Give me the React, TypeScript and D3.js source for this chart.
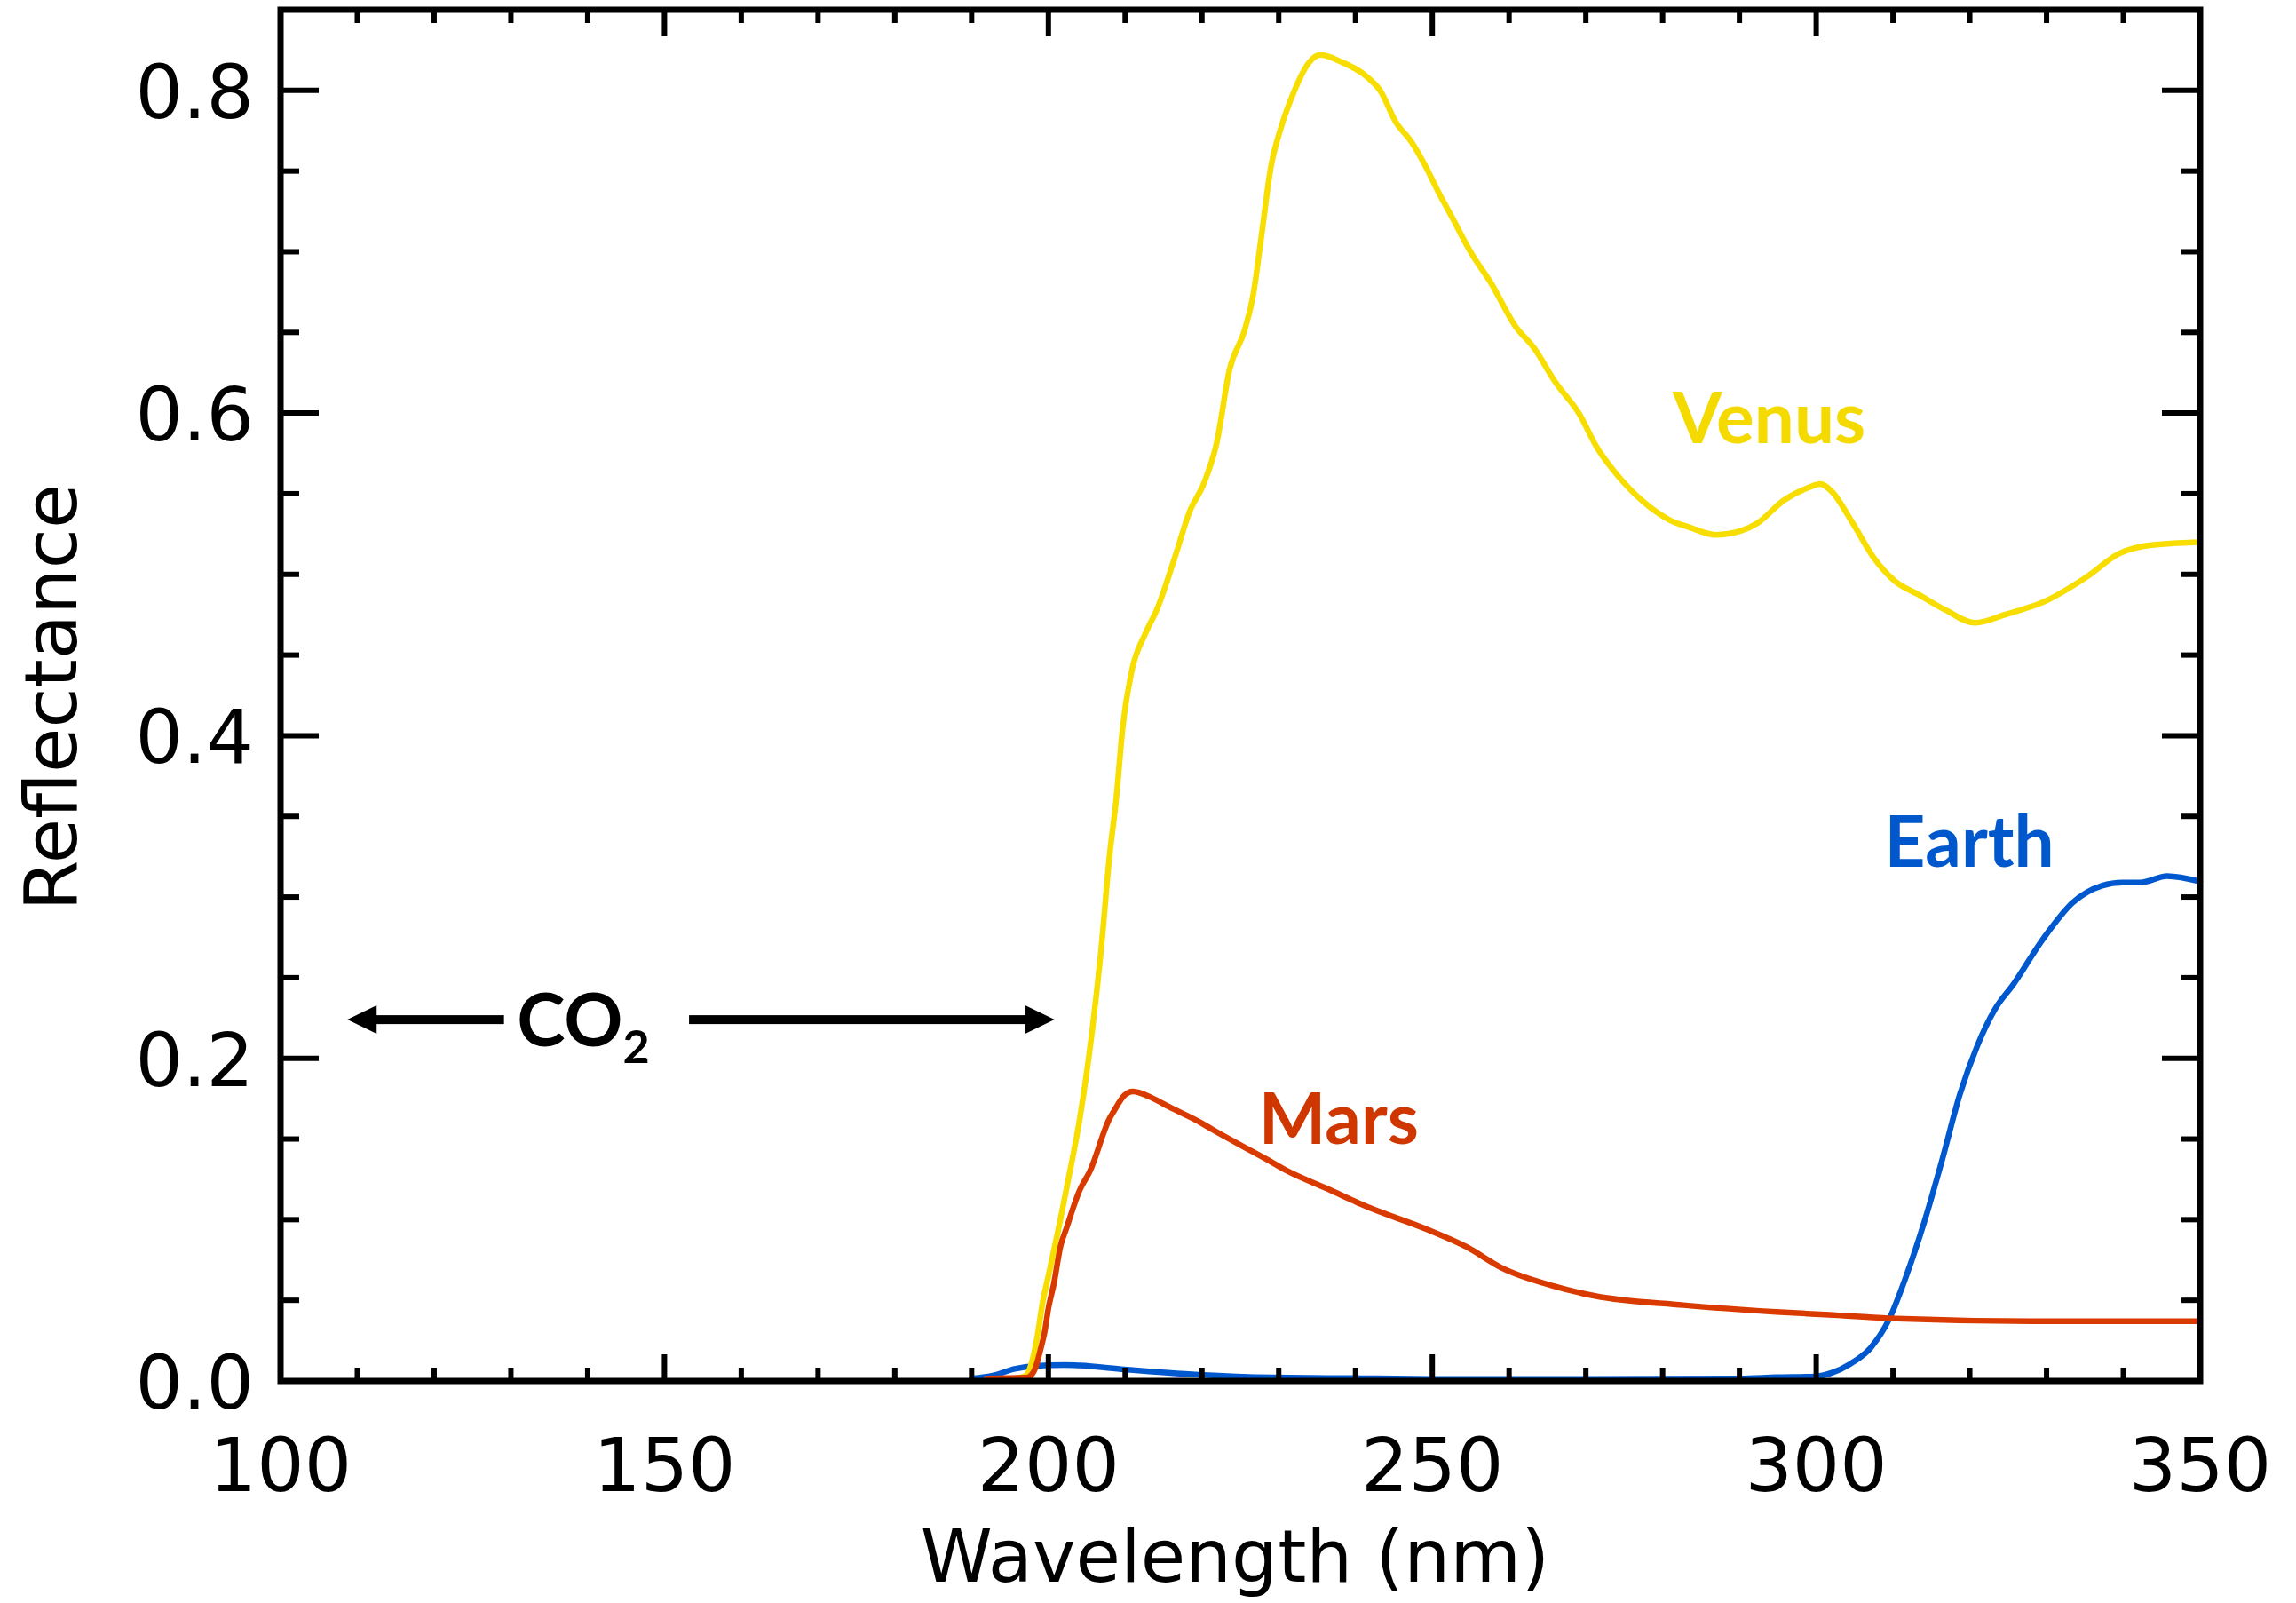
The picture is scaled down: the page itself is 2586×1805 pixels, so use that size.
import React from "react";
import * as d3 from "d3";

// Reflectance spectra (wavelength in nm, reflectance)
const venusWavelength = [192, 195.5, 197.0, 197.8, 198.5, 199.3, 200.0, 200.85, 201.3, 202.6, 204.1, 205.7, 206.8, 208.0, 208.8, 209.7, 210.9, 212.6, 214.2, 216.5, 218.4, 220.3, 221.9, 223.6, 225.6, 226.7, 227.7, 229.0, 230.3, 231.8, 233.9, 235.4, 238.0, 241.6, 243.2, 245.3, 247.3, 248.9, 250.9, 252.5, 255.1, 257.6, 260.8, 263.3, 265.9, 269.2, 271.4, 274.2, 277.5, 280.8, 283.6, 286.9, 290.2, 292.4, 295.8, 299.1, 300.5, 302.1, 304.6, 307.4, 310.2, 313.5, 316.8, 320.7, 324.6, 330.1, 335.1, 339.5, 343.4, 350];
const venusReflectance = [0.0015, 0.0015, 0.003, 0.011, 0.026, 0.05, 0.065, 0.084, 0.094, 0.125, 0.163, 0.217, 0.264, 0.327, 0.359, 0.406, 0.441, 0.463, 0.479, 0.511, 0.539, 0.557, 0.581, 0.627, 0.652, 0.674, 0.708, 0.753, 0.777, 0.797, 0.817, 0.822, 0.818, 0.808, 0.8, 0.78, 0.768, 0.755, 0.736, 0.722, 0.699, 0.681, 0.654, 0.64, 0.62, 0.599, 0.579, 0.561, 0.545, 0.534, 0.529, 0.5245, 0.527, 0.532, 0.546, 0.554, 0.556, 0.551, 0.533, 0.511, 0.496, 0.487, 0.478, 0.47, 0.475, 0.484, 0.498, 0.513, 0.518, 0.52];

const marsWavelength = [192, 197.0, 197.6, 198.3, 199.0, 199.5, 200.0, 200.7, 201.6, 202.3, 204.1, 205.4, 208.0, 208.5, 209.9, 211.0, 213.7, 215.7, 219.9, 221.5, 228.6, 231.1, 236.4, 241.5, 249.3, 254.5, 259.1, 265.7, 271.2, 282.7, 294.8, 301.7, 309.5, 329.5, 350];
const marsReflectance = [0.0015, 0.002, 0.003, 0.008, 0.02, 0.03, 0.045, 0.06, 0.084, 0.094, 0.1185, 0.13, 0.163, 0.167, 0.177, 0.1795, 0.175, 0.17, 0.16, 0.1555, 0.137, 0.1302, 0.119, 0.108, 0.094, 0.083, 0.07, 0.059, 0.0527, 0.047, 0.0428, 0.041, 0.0388, 0.037, 0.037];

const earthWavelength = [190, 192.9, 195.6, 198.3, 202.2, 204.1, 209.9, 219.6, 229.2, 240.8, 250, 270, 290, 294.8, 299.8, 302, 304.4, 307.1, 309.5, 311.8, 314.1, 316.4, 318.7, 321.0, 323.3, 325.7, 329.5, 333.4, 337.2, 339.9, 342.2, 345.7, 350];
const earthReflectance = [0.0015, 0.0035, 0.0075, 0.0094, 0.0099, 0.0096, 0.0072, 0.0039, 0.0022, 0.0017, 0.0013, 0.0012, 0.0015, 0.0023, 0.0028, 0.005, 0.0105, 0.0206, 0.0383, 0.0661, 0.099, 0.137, 0.1775, 0.208, 0.2306, 0.246, 0.2737, 0.2965, 0.307, 0.309, 0.309, 0.313, 0.3096];

const xTickLabels = [100, 150, 200, 250, 300, 350];
const yTickLabels = [0.0, 0.2, 0.4, 0.6, 0.8];

const W = 2586;
const H = 1805;
const LEFT = 316;
const RIGHT = 2478;
const TOP = 11;
const BOTTOM = 1555;

const COLORS = {
  venus: "#F7DE00",
  mars: "#D93A00",
  earth: "#0058CE",
  venusLabel: "#F5DA00",
  marsLabel: "#CF3600",
  earthLabel: "#0058CC",
};

const TICK_FONT = "'DejaVu Sans', sans-serif";
const LABEL_FONT = "Lato, 'Open Sans', sans-serif";

export default function App() {
  const x = d3.scaleLinear().domain([100, 350]).range([LEFT, RIGHT]);
  const y = d3.scaleLinear().domain([0, 0.85]).range([BOTTOM, TOP]);

  const line = (xs: number[], ys: number[]) =>
    d3
      .line<number>()
      .x((_, i) => x(xs[i]))
      .y((_, i) => y(ys[i]))
      .curve(d3.curveMonotoneX)(xs);

  const xMinor = x.ticks(25);
  const yMinor = y.ticks(17);
  const isMajorX = (v: number) => Math.abs(v % 50) < 1e-6;
  const isMajorY = (v: number) => Math.abs(Math.round(v * 100) % 20) < 1e-6;

  const xMajorLen = 30;
  const xMinorLen = 15;
  const yMajorLen = 43;
  const yMinorLen = 21;
  const tickW = 6;
  const frameW = 7;

  const arrowY = y(0.224);
  const arrowLeftTip = x(108.7);
  const arrowLeftEnd = x(129.1);
  const arrowRightStart = x(153.2);
  const arrowRightTip = x(200.8);
  const headLen = 33;
  const headHalf = 16;

  return (
    <svg
      width={W}
      height={H}
      viewBox={`0 0 ${W} ${H}`}
      style={{ position: "absolute", left: 0, top: 0, background: "#fff" }}
    >
      <rect x={0} y={0} width={W} height={H} fill="#fff" />

      {/* spectra */}
      <g fill="none" strokeWidth={6.5} strokeLinejoin="round" strokeLinecap="round">
        <path d={line(earthWavelength, earthReflectance) || ""} stroke={COLORS.earth} />
        <path d={line(venusWavelength, venusReflectance) || ""} stroke={COLORS.venus} />
        <path d={line(marsWavelength, marsReflectance) || ""} stroke={COLORS.mars} />
      </g>

      {/* ticks on all four sides, pointing inward */}
      <g stroke="#000" strokeWidth={tickW}>
        {xMinor.map((v) => {
          const len = isMajorX(v) ? xMajorLen : xMinorLen;
          return (
            <g key={`xt${v}`}>
              <line x1={x(v)} x2={x(v)} y1={BOTTOM} y2={BOTTOM - len} />
              <line x1={x(v)} x2={x(v)} y1={TOP} y2={TOP + len} />
            </g>
          );
        })}
        {yMinor.map((v) => {
          const len = isMajorY(v) ? yMajorLen : yMinorLen;
          return (
            <g key={`yt${v}`}>
              <line x1={LEFT} x2={LEFT + len} y1={y(v)} y2={y(v)} />
              <line x1={RIGHT} x2={RIGHT - len} y1={y(v)} y2={y(v)} />
            </g>
          );
        })}
      </g>

      {/* frame */}
      <rect
        x={LEFT}
        y={TOP}
        width={RIGHT - LEFT}
        height={BOTTOM - TOP}
        fill="none"
        stroke="#000"
        strokeWidth={frameW}
      />

      {/* tick labels */}
      <g fontFamily={TICK_FONT} fontSize={84} fill="#000">
        {xTickLabels.map((v) => (
          <text key={`xl${v}`} x={x(v)} y={1679} textAnchor="middle">
            {v}
          </text>
        ))}
        {yTickLabels.map((v) => (
          <text key={`yl${v}`} x={286} y={y(v) + 31} textAnchor="end">
            {v.toFixed(1)}
          </text>
        ))}
      </g>

      {/* axis titles */}
      <text
        x={1391}
        y={1781}
        textAnchor="middle"
        fontFamily={TICK_FONT}
        fontSize={82}
        fill="#000"
      >
        Wavelength (nm)
      </text>
      <text
        transform={`translate(86, 785) rotate(-90)`}
        textAnchor="middle"
        fontFamily={TICK_FONT}
        fontSize={82}
        fill="#000"
      >
        Reflectance
      </text>

      {/* CO2 absorption range */}
      <g fill="#000" stroke="none">
        <rect x={arrowLeftTip + headLen - 1} y={arrowY - 5} width={arrowLeftEnd - arrowLeftTip - headLen + 1} height={10} />
        <polygon
          points={`${arrowLeftTip},${arrowY} ${arrowLeftTip + headLen},${arrowY - headHalf} ${arrowLeftTip + headLen},${arrowY + headHalf}`}
        />
        <rect x={arrowRightStart} y={arrowY - 5} width={arrowRightTip - headLen - arrowRightStart + 1} height={10} />
        <polygon
          points={`${arrowRightTip},${arrowY} ${arrowRightTip - headLen},${arrowY - headHalf} ${arrowRightTip - headLen},${arrowY + headHalf}`}
        />
      </g>
      <text x={x(130.8)} y={y(0.2078)} fontFamily={LABEL_FONT} fontWeight={700} fontSize={82} fill="#000">
        CO
        <tspan fontSize={52} dy={19}>
          2
        </tspan>
      </text>

      {/* planet labels */}
      <g fontFamily={LABEL_FONT} fontWeight={700} fontSize={80}>
        <text x={x(281.3)} y={y(0.5815)} fill={COLORS.venusLabel}>
          Venus
        </text>
        <text x={x(308.9)} y={y(0.3188)} fill={COLORS.earthLabel}>
          Earth
        </text>
        <text x={x(227.4)} y={y(0.147)} fill={COLORS.marsLabel}>
          Mars
        </text>
      </g>
    </svg>
  );
}
